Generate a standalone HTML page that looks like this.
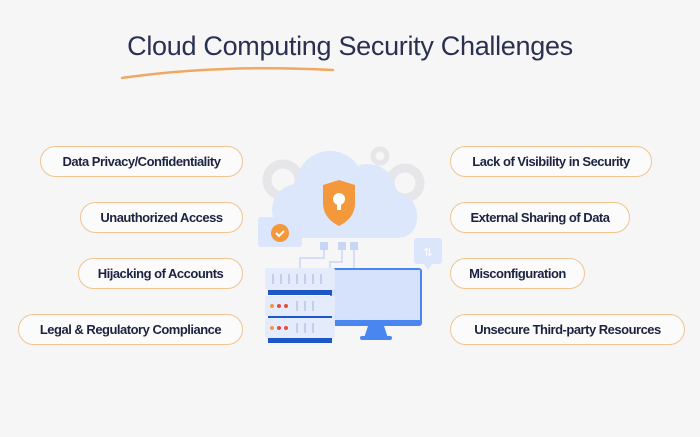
<!DOCTYPE html>
<html><head><meta charset="utf-8"><style>
body{margin:0;width:700px;height:437px;background:#f6f6f7;position:relative;overflow:hidden;font-family:"Liberation Sans",sans-serif}
.t{position:absolute;left:0;width:700px;top:31px;text-align:center;font-size:27px;color:#2a3150;font-weight:300;letter-spacing:-0.3px}
.p{position:absolute;height:29px;border:1.5px solid #f2c48f;border-radius:16px;background:#fbfbfb;box-sizing:content-box;font-weight:bold;font-size:13px;color:#1b2340;line-height:29px;text-align:center;letter-spacing:-0.5px}
</style></head><body>
<div class="t">Cloud Computing Security Challenges</div>
<svg style="position:absolute;left:0;top:0" width="700" height="437">
<path d="M122 78 Q220 64 333 70" stroke="#f0a860" stroke-width="2.5" fill="none" stroke-linecap="round"/>
<circle cx="283" cy="180" r="16" fill="none" stroke="#e6e6e8" stroke-width="9"/>
<circle cx="405" cy="183" r="15" fill="none" stroke="#e6e6e8" stroke-width="9"/>
<circle cx="380" cy="156" r="7" fill="none" stroke="#e6e6e8" stroke-width="5"/>
<g fill="#dde7fb">
<circle cx="330" cy="185" r="34"/><circle cx="368" cy="192" r="28"/><circle cx="298" cy="210" r="26"/><circle cx="395" cy="215" r="22"/>
<rect x="275" y="200" width="142" height="38" rx="19"/>
</g>
<path d="M339 180 L355 185 V203 Q355 218 339 226 Q323 218 323 203 V185 Z" fill="#f3993b"/>
<circle cx="339" cy="199" r="6" fill="#fff"/><rect x="337" y="200" width="4" height="10" fill="#fff"/>
<rect x="258" y="217" width="44" height="30" rx="3" fill="#dbe5fb"/>
<circle cx="280" cy="233" r="9" fill="#f3993b"/>
<path d="M276 233 l3 3 l5 -5" stroke="#fff" stroke-width="2" fill="none"/>
<g fill="#c8d6f5"><rect x="320" y="242" width="8" height="8"/><rect x="338" y="242" width="8" height="8"/><rect x="350" y="242" width="8" height="8"/></g>
<path d="M324 250 V258 H300 V268 M342 250 V262 H330 V268 M354 250 V268" stroke="#c8d6f5" stroke-width="1.5" fill="none"/>
<rect x="414" y="238" width="28" height="26" rx="3" fill="#dbe5fb"/>
<path d="M424 264 l4 6 l4 -6z" fill="#dbe5fb"/>
<text x="428" y="256" font-size="11" fill="#fff" text-anchor="middle" font-family="DejaVu Sans">⇅</text>
<rect x="330" y="268" width="92" height="58" rx="3" fill="#4a86ef"/>
<rect x="332" y="270" width="88" height="50" fill="#d6e2fb"/>
<path d="M368 326 h16 l4 12 h-24z" fill="#4a86ef"/>
<rect x="360" y="336" width="32" height="4" rx="2" fill="#4a86ef"/>
<g>
<rect x="265" y="268" width="70" height="22" rx="2" fill="#e4ebfb"/><rect x="268" y="290" width="64" height="5" fill="#1e55c8"/>
<rect x="265" y="296" width="70" height="20" rx="2" fill="#e4ebfb"/><rect x="268" y="316" width="64" height="5" fill="#1e55c8"/>
<rect x="265" y="318" width="70" height="20" rx="2" fill="#e4ebfb"/><rect x="268" y="338" width="64" height="5" fill="#1e55c8"/>
<g fill="#c3cfec"><rect x="272" y="274" width="2" height="10"/><rect x="280" y="274" width="2" height="10"/><rect x="288" y="274" width="2" height="10"/><rect x="296" y="274" width="2" height="10"/><rect x="304" y="274" width="2" height="10"/><rect x="312" y="274" width="2" height="10"/><rect x="320" y="274" width="2" height="10"/>
<rect x="296" y="301" width="2" height="10"/><rect x="304" y="301" width="2" height="10"/><rect x="312" y="301" width="2" height="10"/>
<rect x="296" y="323" width="2" height="10"/><rect x="304" y="323" width="2" height="10"/><rect x="312" y="323" width="2" height="10"/></g>
<circle cx="272" cy="306" r="2" fill="#f3993b"/><circle cx="279" cy="306" r="2" fill="#e74c3c"/><circle cx="286" cy="306" r="2" fill="#e74c3c"/>
<circle cx="272" cy="328" r="2" fill="#f3993b"/><circle cx="279" cy="328" r="2" fill="#e74c3c"/><circle cx="286" cy="328" r="2" fill="#e74c3c"/>
</g>
</svg>
<div class="p" style="left:40px;top:146px;width:201px">Data Privacy/Confidentiality</div>
<div class="p" style="left:80px;top:202px;width:161px">Unauthorized Access</div>
<div class="p" style="left:78px;top:258px;width:163px">Hijacking of Accounts</div>
<div class="p" style="left:18px;top:314px;width:223px">Legal &amp; Regulatory Compliance</div>
<div class="p" style="left:450px;top:146px;width:200px">Lack of Visibility in Security</div>
<div class="p" style="left:450px;top:202px;width:178px">External Sharing of Data</div>
<div class="p" style="left:450px;top:258px;width:133px">Misconfiguration</div>
<div class="p" style="left:450px;top:314px;width:233px">Unsecure Third-party Resources</div>
</body></html>
